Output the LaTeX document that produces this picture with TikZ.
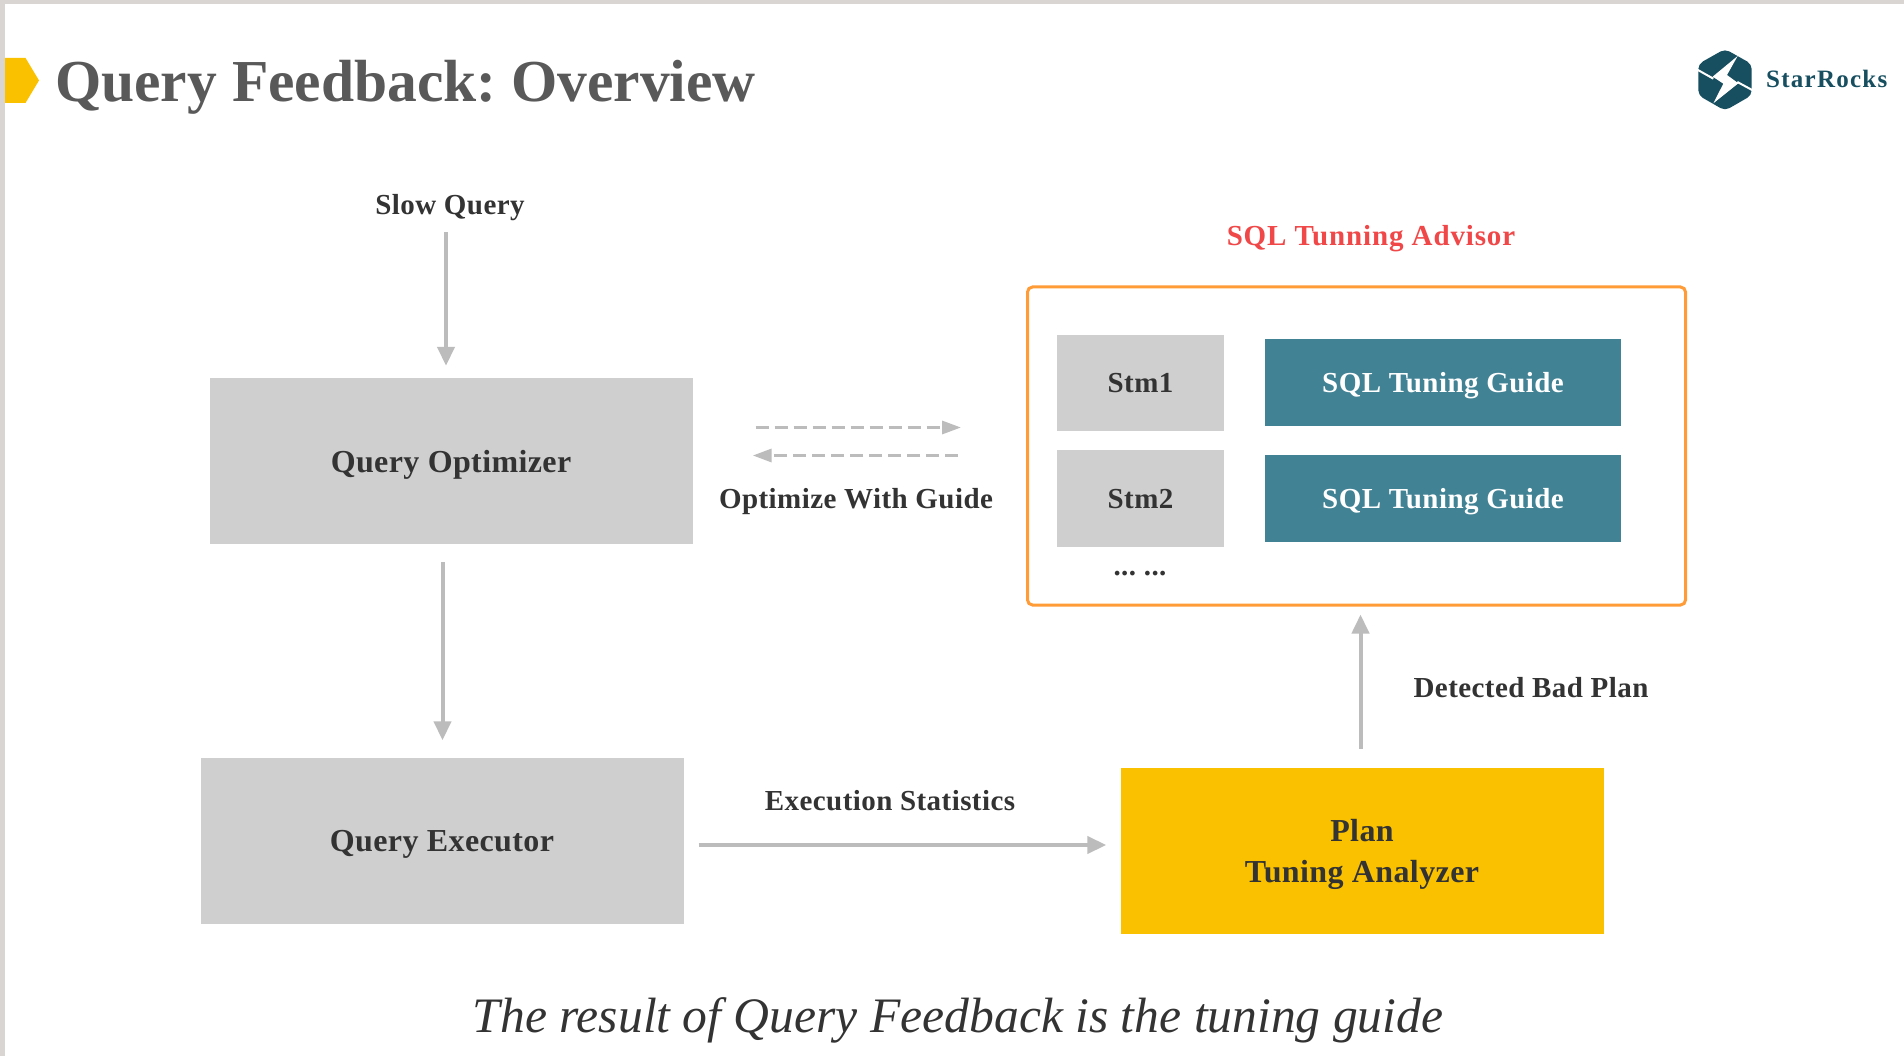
\documentclass[tikz,border=0pt]{standalone}
\usepackage{fontspec}
\setmainfont{Liberation Serif}
\newfontfamily\brandfont[LetterSpace=5]{Liberation Serif}
\newfontfamily\labelfont[LetterSpace=1.5]{Liberation Serif}
\newfontfamily\advfont[LetterSpace=3]{Liberation Serif}
\newfontfamily\boxfont[LetterSpace=1.2]{Liberation Serif}
\definecolor{boxgrey}{HTML}{CFCFCF}
\definecolor{txt}{HTML}{333333}
\definecolor{titlegrey}{HTML}{595959}
\definecolor{teal1}{HTML}{418294}
\definecolor{gold}{HTML}{FAC100}
\definecolor{orangeb}{HTML}{FF9C38}
\definecolor{arrowgrey}{HTML}{BCBCBC}
\definecolor{logoteal}{HTML}{174F60}
\definecolor{redtxt}{HTML}{F04848}
\definecolor{edge}{HTML}{D9D5D3}
\usetikzlibrary{arrows.meta}
\tikzset{
  label text/.style={font=\labelfont\fontsize{29}{35}\selectfont\bfseries,text=txt,inner sep=0pt,text depth=0pt},
  big box/.style={fill=boxgrey,minimum width=483,minimum height=166,inner sep=0pt,font=\boxfont\fontsize{32}{41}\selectfont\bfseries,text=txt,text depth=0pt},
  stm box/.style={fill=boxgrey,minimum width=167,minimum height=96,inner sep=0pt,label text},
  guide box/.style={fill=teal1,minimum width=356,minimum height=87,inner sep=0pt,label text,text=white},
  solid arrow/.style={draw=arrowgrey,line width=4pt,-{Triangle[length=19pt,width=17pt]}},
  dash arrow/.style={draw=arrowgrey,line width=3.2pt,dash pattern=on 13pt off 6pt,-{Triangle[length=19pt,width=13pt]}},
}
\begin{document}
\frenchspacing
\begin{tikzpicture}[x=1pt,y=-1pt]
\useasboundingbox (0,0) rectangle (1904,1056);
\fill[white] (0,0) rectangle (1904,1056);
\fill[edge] (0,0) rectangle (1904,4);
\fill[edge] (0,0) rectangle (5,1056);
% title
\fill[gold] (5,58) -- (25.5,58) -- (39,80.5) -- (25.5,103) -- (5,103) -- cycle;
\node[anchor=base west,inner sep=0pt,text=titlegrey,font=\fontsize{59.5}{70}\selectfont\bfseries] (title) at (55,102) {Query Feedback: Overview};
% logo
\begin{scope}[shift={(1660,20)},x=0.3333pt,y=-0.3333pt]
\fill[logoteal,rounded corners=5pt] (195,87) -- (275,132) -- (275,226) -- (195,272) -- (115,226) -- (115,132) -- cycle;
\fill[white] (233,108) -- (158,170) -- (190,191) -- (160,250) -- (235,190) -- (201,165) -- cycle;
\draw[white,line width=2pt] (110,148) -- (160,176);
\draw[white,line width=2pt] (232,186) -- (280,212);
\end{scope}
\node[anchor=base west,inner sep=0pt,text=logoteal,font=\brandfont\fontsize{25}{28}\selectfont\bfseries] (brand) at (1766,88) {StarRocks};
% labels and boxes
\node[label text,minimum height=56] (slow) at (450,204) {Slow Query};
\node[big box] (opt) at (451,461) {Query Optimizer};
\node[big box] (exec) at (442,840.5) {Query Executor};
\node[big box,fill=gold,align=center] (plan) at (1362,851) {Plan\\Tuning Analyzer};
\node[label text,font=\advfont\fontsize{29}{35}\selectfont\bfseries,text=redtxt] (advlabel) at (1371,235) {SQL Tunning Advisor};
\node[draw=orangeb,line width=3pt,rounded corners=5pt,minimum width=658,minimum height=318,inner sep=0pt] (adv) at (1356.5,446) {};
\node[stm box] (stm1) at (1140.5,383) {Stm1};
\node[stm box] (stm2) at (1140.5,498.5) {Stm2};
\node[guide box] (g1) at (1443,382.5) {SQL Tuning Guide};
\node[guide box] (g2) at (1443,498) {SQL Tuning Guide};
\node[anchor=base,label text] (dots) at (1140,575) {... ...};
\node[label text] (optlabel) at (856,498) {Optimize With Guide};
\node[label text] (statlabel) at (890,800) {Execution Statistics};
\node[label text] (badlabel) at (1531,687) {Detected Bad Plan};
\node[inner sep=0pt,text=txt,text depth=0pt,font=\fontsize{49.6}{58}\selectfont\itshape] (foot) at (958,1015) {The result of Query Feedback is the tuning guide};
% connectors
\draw[solid arrow,shorten >=12pt] (446,0 |- slow.south) -- (446,0 |- opt.north);
\draw[solid arrow,shorten <=18pt,shorten >=17pt] (442.5,0 |- opt.south) -- (442.5,0 |- exec.north);
\draw[solid arrow,shorten <=15pt,shorten >=14pt] (exec.east |- 0,845) -- (plan.west |- 0,845);
\draw[solid arrow,shorten <=19pt,shorten >=8pt] (1360.5,0 |- plan.north) -- (1360.5,0 |- adv.south);
\draw[dash arrow,shorten <=63pt,shorten >=65pt] (opt.east |- 0,427.5) -- (adv.west |- 0,427.5);
\draw[dash arrow,shorten <=68pt,shorten >=60pt] (adv.west |- 0,455.5) -- (opt.east |- 0,455.5);
\end{tikzpicture}
\end{document}
